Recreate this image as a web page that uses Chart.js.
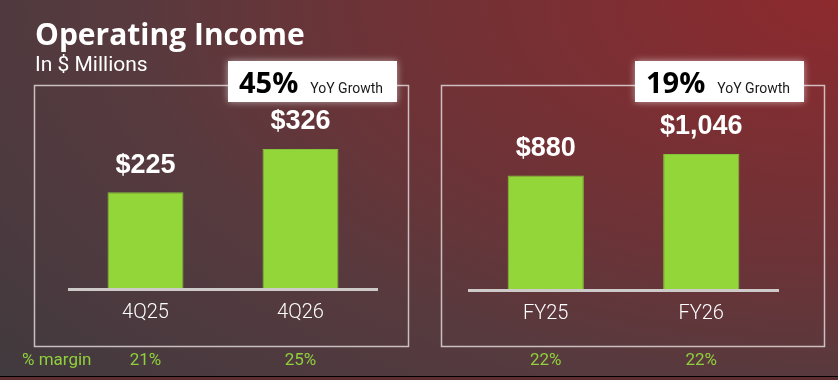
<!DOCTYPE html>
<html>
<head>
<meta charset="utf-8">
<script src="https://cdn.jsdelivr.net/npm/chart.js@4"></script>
<style>
  html, body { margin: 0; padding: 0; }
  body { width: 838px; height: 380px; overflow: hidden; position: relative;
    background: radial-gradient(ellipse 1150px 620px at 100% 0%, #8d2a2e 0%, #6c3337 42%, #573a3e 62%, #4b3a3f 80%, #3d3a3d 100%); }
  canvas { position: absolute; left: 0; top: 0; }
  #strip { position: absolute; left: 0; top: 376px; width: 838px; height: 4px;
    background: linear-gradient(#000 0, #000 1.5px, #5c2c30 1.5px); }
</style>
</head>
<body>
<canvas id="c1" width="838" height="380"></canvas>
<canvas id="c2" width="838" height="380"></canvas>
<div id="strip"></div>
<script>
// ---- data ----
const titleText = 'Operating Income';
const subtitleText = 'In $ Millions';
const marginLabel = '% margin';
const quarterCategories = ['4Q25', '4Q26'];
const quarterValues = [225, 326];
const quarterMargins = ['21%', '25%'];
const quarterGrowth = '45%';
const yearCategories = ['FY25', 'FY26'];
const yearValues = [880, 1046];
const yearMargins = ['22%', '22%'];
const yearGrowth = '19%';
const growthCaption = 'YoY Growth';

const GREEN = '#93d63a';
const MARGIN_GREEN = '#8fd03c';

function makePanelPlugin(cfg) {
  return {
    id: 'panel_' + cfg.key,
    beforeDraw(chart) {
      const ctx = chart.ctx;
      ctx.save();
      ctx.strokeStyle = 'rgba(225,215,215,0.85)';
      ctx.lineWidth = 1.5;
      ctx.strokeRect(cfg.panel.x + 0.5, cfg.panel.y + 0.5, cfg.panel.w, cfg.panel.h);
      ctx.restore();
    },
    afterDatasetsDraw(chart) {
      const ctx = chart.ctx;
      const area = chart.chartArea;
      const xs = chart.scales.x, ys = chart.scales.y;
      const meta = chart.getDatasetMeta(0);
      ctx.save();
      // baseline
      ctx.strokeStyle = '#cfcaca';
      ctx.lineWidth = 3;
      ctx.beginPath();
      ctx.moveTo(area.left, area.bottom + 0.5);
      ctx.lineTo(area.right, area.bottom + 0.5);
      ctx.stroke();
      // value labels
      ctx.fillStyle = '#ffffff';
      ctx.textAlign = 'center';
      ctx.textBaseline = 'middle';
      ctx.font = 'bold 27px "Liberation Sans", Arial, sans-serif';
      cfg.values.forEach((v, i) => {
        const bar = meta.data[i];
        ctx.fillText('$' + v.toLocaleString('en-US'), bar.x, ys.getPixelForValue(v) - 27);
      });
      // category labels
      ctx.font = '300 20px Roboto, sans-serif';
      cfg.categories.forEach((c, i) => {
        ctx.fillText(c, xs.getPixelForValue(i), area.bottom + 24);
      });
      // margins
      ctx.fillStyle = MARGIN_GREEN;
      ctx.font = '17px Roboto, sans-serif';
      cfg.margins.forEach((m, i) => {
        ctx.fillText(m, xs.getPixelForValue(i), 361);
      });
      ctx.restore();
    },
    afterDraw(chart) {
      const ctx = chart.ctx;
      const b = cfg.box;
      ctx.save();
      ctx.shadowColor = 'rgba(255,255,255,0.55)';
      ctx.shadowBlur = 7;
      ctx.fillStyle = '#ffffff';
      ctx.fillRect(b.x, b.y, b.w, b.h);
      ctx.shadowBlur = 0;
      ctx.shadowColor = 'transparent';
      ctx.fillStyle = '#000000';
      ctx.textAlign = 'left';
      ctx.textBaseline = 'alphabetic';
      ctx.font = 'bold 29px "Open Sans", sans-serif';
      ctx.fillText(cfg.growth, b.x + 11, b.y + 32);
      const w = ctx.measureText(cfg.growth).width;
      ctx.fillStyle = '#1a1a1a';
      ctx.font = '14px Roboto, sans-serif';
      ctx.fillText(growthCaption, b.x + 11 + w + 12, b.y + 32);
      if (cfg.header) {
        ctx.fillStyle = '#ffffff';
        ctx.font = 'bold 30px "Open Sans", sans-serif';
        ctx.fillText(titleText, 35, 45);
        ctx.font = '21px Roboto, sans-serif';
        ctx.fillText(subtitleText, 35, 71);
        ctx.fillStyle = MARGIN_GREEN;
        ctx.textBaseline = 'middle';
        ctx.font = '17px Roboto, sans-serif';
        ctx.fillText(marginLabel, 22, 361);
      }
      ctx.restore();
    }
  };
}

function makeChart(id, cfg) {
  return new Chart(document.getElementById(id), {
    type: 'bar',
    data: {
      labels: cfg.categories,
      datasets: [{
        data: cfg.values,
        backgroundColor: GREEN,
        borderColor: '#84c23a',
        borderWidth: 1,
        categoryPercentage: 1,
        barPercentage: 0.49
      }]
    },
    options: {
      responsive: false,
      animation: false,
      events: [],
      layout: { padding: cfg.padding },
      plugins: { legend: { display: false }, tooltip: { enabled: false } },
      scales: {
        x: { display: false },
        y: { display: false, min: 0, max: cfg.yMax }
      }
    },
    plugins: [makePanelPlugin(cfg)]
  });
}

makeChart('c1', {
  key: 'q', header: true,
  categories: quarterCategories, values: quarterValues, margins: quarterMargins, growth: quarterGrowth,
  padding: { left: 68, right: 460, top: 100, bottom: 91 },
  yMax: 440,
  panel: { x: 34, y: 85, w: 374, h: 261 },
  box: { x: 228, y: 61, w: 169, h: 41 }
});
makeChart('c2', {
  key: 'y', header: false,
  categories: yearCategories, values: yearValues, margins: yearMargins, growth: yearGrowth,
  padding: { left: 468, right: 59, top: 100, bottom: 90 },
  yMax: 1460,
  panel: { x: 441, y: 85, w: 383, h: 261 },
  box: { x: 635, y: 61, w: 169, h: 41 }
});
</script>
</body>
</html>
